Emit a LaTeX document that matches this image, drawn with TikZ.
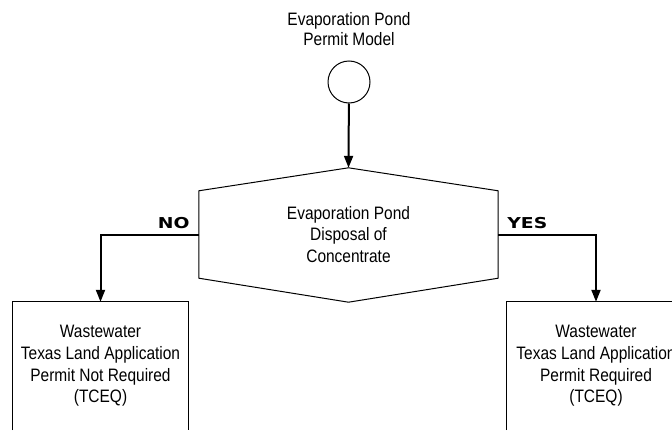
\documentclass[tikz,border=0pt]{standalone}
\usepackage{fontspec}
\setmainfont[FakeStretch=0.86]{Liberation Sans}
\newfontfamily\answerfont[FakeStretch=1.25]{DejaVu Sans}
\usetikzlibrary{arrows.meta,positioning}

\tikzset{
  flowline/.style={line width=2pt, -{Triangle[length=12pt,width=9pt]}},
  outline/.style={line width=1pt},
  boxline/.style={line width=1.2pt},
  flowtext/.style={align=center, font=\fontsize{18}{21.7}\selectfont, inner sep=0pt},
  answer/.style={font=\answerfont\bfseries\fontsize{15}{15}\selectfont, inner sep=0pt},
}

\begin{document}
\begin{tikzpicture}[x=1pt, y=-1pt]
\useasboundingbox (0,0) rectangle (672,431);
\clip (0,0) rectangle (672,431);

% start of the model
\node[flowtext, font=\fontsize{18}{20}\selectfont] (title) at (349,29) {Evaporation Pond\\Permit Model};
\node[draw, outline, circle, minimum size=42pt, inner sep=0pt] (start) at (349,82) {};

% decision
\node[flowtext, minimum width=299pt, minimum height=87pt] (pond) at (348.5,234.5) {Evaporation Pond\\Disposal of\\Concentrate};
\coordinate (pond top) at ([yshift=23pt]pond.north);
\coordinate (pond bottom) at ([yshift=-24pt]pond.south);
\draw[outline] (pond.south west) -- (pond.north west) -- (pond top) -- (pond.north east)
  -- (pond.south east) -- (pond bottom) -- cycle;

% permits
\node[flowtext, minimum width=175pt, minimum height=128pt] (notreq) at (100.5,366) {Wastewater\\Texas Land Application\\Permit Not Required\\(TCEQ)};
\node[flowtext, minimum width=178pt, minimum height=128pt] (req) at (596,366) {Wastewater\\Texas Land Application\\Permit Required\\(TCEQ)};
\draw[boxline] (notreq.south west) -- (notreq.north west) -- (notreq.north east) -- (notreq.south east);
\draw[boxline] (req.south west) -- (req.north west) -- (req.north east) -- (req.south east);

% connectors
\draw[flowline] (start) -- (pond top);
\draw[flowline] (pond.west) -| (notreq.north);
\draw[flowline] (pond.east) -| (req.north);

\node[answer, above left=5.5pt and 9pt of pond.west] (no) {NO};
\node[answer, above right=5.5pt and 9pt of pond.east] (yes) {YES};
\end{tikzpicture}
\end{document}
